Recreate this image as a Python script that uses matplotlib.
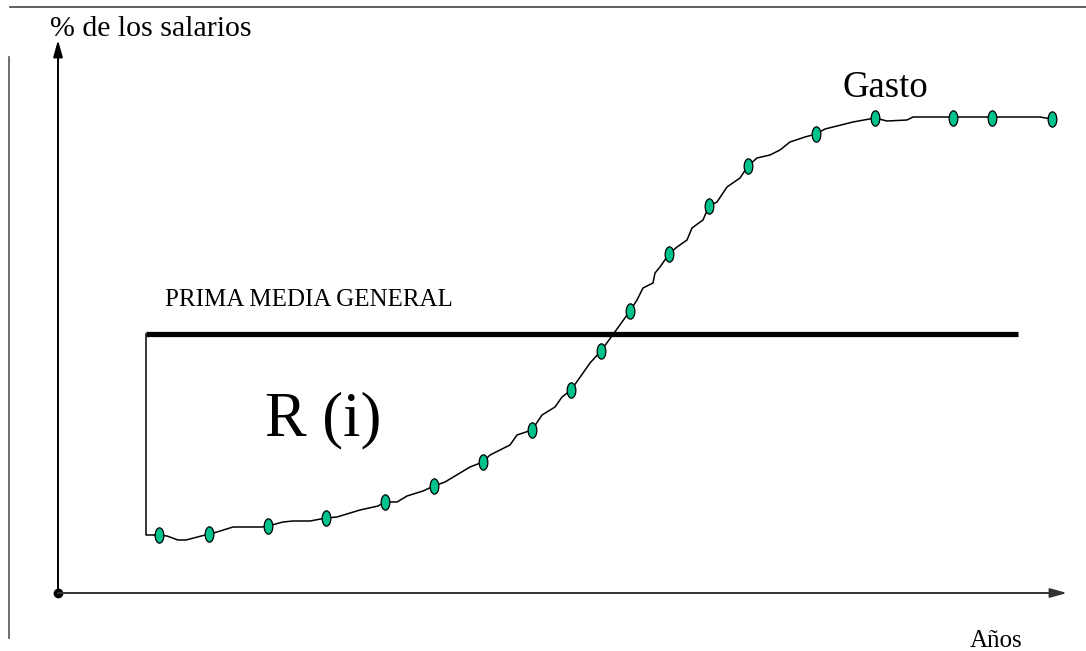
import numpy as np
import matplotlib
matplotlib.use('Agg')
import matplotlib.pyplot as plt
from matplotlib.path import Path
from matplotlib.transforms import Affine2D

plt.rcParams['font.family'] = ['Liberation Serif', 'DejaVu Serif']

# puntos marcados de la curva de gasto (x = años, y = % de los salarios)
gasto_x = [10.1, 15.1, 21.0, 26.8, 32.7, 37.6, 42.5, 47.4, 51.3, 54.3,
           57.2, 61.1, 65.1, 69.0, 75.8, 81.7, 89.5, 93.4, 99.4]
gasto_y = [5.8, 5.9, 6.7, 7.5, 9.1, 10.7, 13.1, 16.3, 20.3, 24.2,
           28.2, 33.9, 38.7, 42.7, 45.9, 47.5, 47.5, 47.5, 47.4]

# trazo de la curva (con sus pequeñas ondulaciones)
curva_x = [9.7, 10.1, 10.9, 12.0, 12.8, 15.1, 15.9, 17.5, 20.4, 21.0,
           22.5, 23.5, 25.2, 26.8, 27.9, 30.2, 32.0, 32.7, 33.9, 34.9,
           36.5, 37.6, 38.7, 41.2, 42.5, 43.2, 45.2, 45.9, 47.4, 48.4,
           49.7, 50.4, 51.3, 52.5, 53.2, 54.3, 57.2, 57.9, 58.5, 59.5,
           59.7, 60.2, 61.1, 61.9, 62.9, 63.4, 64.5, 65.1, 65.9, 66.9,
           68.2, 69.0, 69.9, 71.2, 72.2, 73.2, 74.7, 75.8, 76.7, 79.5,
           81.7, 82.9, 84.9, 85.5, 89.5, 93.4, 98.2, 99.4]
curva_y = [5.8, 5.8, 5.7, 5.3, 5.3, 5.9, 6.1, 6.6, 6.6, 6.7,
           7.1, 7.2, 7.2, 7.5, 7.6, 8.3, 8.7, 9.1, 9.1, 9.7,
           10.2, 10.7, 11.1, 12.6, 13.1, 13.8, 14.8, 15.8, 16.3, 17.8,
           18.6, 19.6, 20.3, 22.0, 23.0, 24.2, 28.2, 29.3, 30.5, 31.0,
           32.0, 32.6, 33.9, 34.6, 35.3, 36.5, 37.3, 38.7, 39.1, 40.6,
           41.5, 42.7, 43.5, 43.8, 44.3, 45.1, 45.6, 45.9, 46.4, 47.1,
           47.5, 47.2, 47.3, 47.6, 47.6, 47.6, 47.6, 47.4]

# prima media general
prima = 25.9
prima_desde = 8.8
prima_hasta = 96.0

fig = plt.figure(figsize=(10.86, 6.51), dpi=100)
ax = fig.add_axes([0, 0, 1, 1])
ax.set_xlim(-5.8, 102.8)
ax.set_ylim(-5.8, 59.3)
ax.axis('off')

# marco: linea superior y linea izquierda
ax.plot([-4.8, 102.8], [58.6, 58.6], color='#444444', lw=1.2)
ax.plot([-4.9, -4.9], [53.6, -4.5], color='#555555', lw=1.2)

# ejes con flechas
flecha = dict(arrowstyle='-|>,head_length=1.0,head_width=0.28', lw=1.4,
              color='black', shrinkA=0, shrinkB=0)
ax.annotate('', xy=(0, 55.3), xytext=(0, 0), arrowprops=flecha)
ax.annotate('', xy=(100.9, 0), xytext=(0, 0), arrowprops=dict(flecha, color='#333333'))
ax.plot([0], [0], 'o', color='black', ms=6)

# prima media general y el escalon de R(i)
ax.plot([prima_desde, prima_hasta], [prima, prima], color='black', lw=3.8,
        solid_capstyle='butt')
ax.plot([prima_desde, prima_desde, curva_x[0]], [prima, curva_y[0], curva_y[0]],
        color='black', lw=1.1)

# curva de gasto
ax.plot(curva_x, curva_y, color='black', lw=1.1)
elipse = Path.unit_circle().transformed(Affine2D().scale(0.57, 1.0))
ax.plot(gasto_x, gasto_y, linestyle='none', marker=elipse, ms=11,
        markerfacecolor='#00C28C', markeredgecolor='black', markeredgewidth=0.9)

# textos
ax.text(-0.8, 55.7, '% de los salarios', fontsize=21.5, ha='left', va='baseline')
ax.text(78.4, 49.6, 'Gasto', fontsize=26.5, ha='left', va='baseline')
ax.text(10.7, 28.7, 'PRIMA MEDIA GENERAL', fontsize=18, ha='left', va='baseline')
ax.text(20.7, 15.8, 'R (i)', fontsize=45, ha='left', va='baseline')
ax.text(91.2, -5.4, 'Años', fontsize=18, ha='left', va='baseline')

fig.savefig('out.png', dpi=100)
